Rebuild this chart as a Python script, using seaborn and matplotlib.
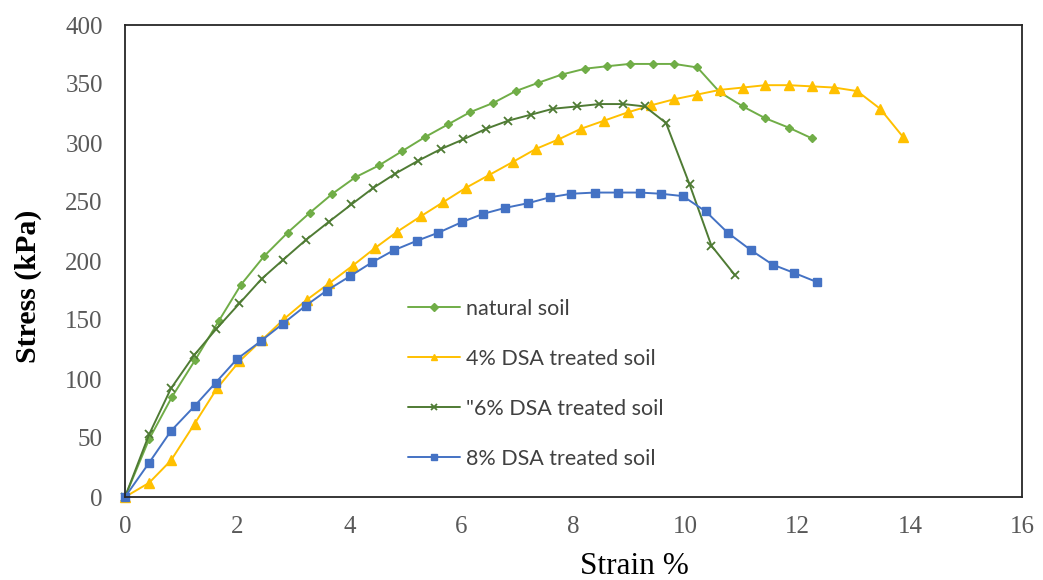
import numpy as np
import pandas as pd
import matplotlib
matplotlib.use("Agg")
import matplotlib.pyplot as plt
import seaborn as sns

# Strain (%) and deviator stress (kPa) for each mix
natural_strain = [0, 0.43, 0.84, 1.25, 1.67, 2.07, 2.48, 2.90, 3.30, 3.70, 4.11, 4.53, 4.94,
                  5.35, 5.77, 6.15, 6.57, 6.97, 7.37, 7.79, 8.21, 8.59, 9.00, 9.41, 9.80,
                  10.21, 10.61, 11.02, 11.42, 11.84, 12.25]
natural_stress = [0, 49, 85, 116, 149, 180, 204, 224, 241, 257, 271, 281, 293,
                  305, 316, 326, 334, 344, 351, 358, 363, 365, 367, 367, 367,
                  364, 343, 331, 321, 313, 304]

dsa4_strain = [0, 0.43, 0.82, 1.24, 1.64, 2.04, 2.44, 2.84, 3.24, 3.64, 4.06, 4.46, 4.86,
               5.28, 5.68, 6.08, 6.50, 6.92, 7.33, 7.73, 8.13, 8.55, 8.97, 9.39, 9.79,
               10.20, 10.61, 11.02, 11.42, 11.84, 12.25, 12.65, 13.06, 13.47, 13.88]
dsa4_stress = [0, 12, 31, 62, 92, 115, 133, 151, 167, 181, 196, 211, 225,
               238, 250, 262, 273, 284, 295, 303, 312, 319, 326, 332, 337,
               341, 345, 347, 349, 349, 348, 347, 344, 329, 305]

dsa6_strain = [0, 0.43, 0.82, 1.23, 1.62, 2.04, 2.44, 2.82, 3.23, 3.63, 4.04, 4.43, 4.82,
               5.23, 5.64, 6.03, 6.44, 6.84, 7.24, 7.63, 8.06, 8.46, 8.89, 9.27, 9.65,
               10.07, 10.46, 10.88]
dsa6_stress = [0, 53, 92, 120, 142, 164, 185, 201, 218, 233, 248, 262, 274,
               285, 295, 303, 312, 319, 324, 329, 331, 333, 333, 331, 317,
               265, 213, 188]

dsa8_strain = [0, 0.43, 0.82, 1.24, 1.62, 2.00, 2.42, 2.82, 3.22, 3.60, 4.01, 4.41, 4.79,
               5.20, 5.59, 6.01, 6.39, 6.78, 7.19, 7.58, 7.96, 8.38, 8.79, 9.18, 9.56,
               9.95, 10.36, 10.75, 11.17, 11.55, 11.93, 12.35]
dsa8_stress = [0, 29, 56, 77, 97, 117, 132, 147, 162, 175, 187, 199, 209,
               217, 224, 233, 240, 245, 249, 254, 257, 258, 258, 258, 257,
               255, 242, 224, 209, 197, 190, 182]

labels = ["natural soil", "4% DSA treated soil", "\"6% DSA treated soil", "8% DSA treated soil"]
x_ticks = [0, 2, 4, 6, 8, 10, 12, 14, 16]
y_ticks = [0, 50, 100, 150, 200, 250, 300, 350, 400]

series = [
    (natural_strain, natural_stress, labels[0], "#70AD47", "D", 4.2, 1.0),
    (dsa4_strain, dsa4_stress, labels[1], "#FFC000", "^", 6.5, 1.0),
    (dsa6_strain, dsa6_stress, labels[2], "#4F7B34", "x", 6.0, 1.3),
    (dsa8_strain, dsa8_stress, labels[3], "#4472C4", "s", 6.0, 1.0),
]

sns.set_theme(style="white")
plt.rcParams["font.family"] = ["Liberation Serif", "DejaVu Serif"]

fig = plt.figure(figsize=(10.43, 5.80), dpi=100)
ax = fig.add_axes([125 / 1043, 1 - 497 / 580, (1022 - 125) / 1043, (497 - 25) / 580])

for xs, ys, lab, col, mk, ms, mew in series:
    df = pd.DataFrame({"strain": xs, "stress": ys})
    sns.lineplot(data=df, x="strain", y="stress", ax=ax, color=col, label=lab,
                 marker=mk, markersize=ms, markeredgewidth=mew,
                 markeredgecolor=col, markerfacecolor=col,
                 linewidth=1.4, sort=False, estimator=None, clip_on=False)

ax.set_xlim(0, 16)
ax.set_ylim(0, 400)
ax.set_xticks(x_ticks)
ax.set_yticks(y_ticks)
ax.tick_params(axis="both", length=0, labelsize=18, labelcolor="#595959")
ax.tick_params(axis="y", pad=16)
ax.tick_params(axis="x", pad=14)
for side in ["left", "right", "top", "bottom"]:
    ax.spines[side].set_visible(True)
    ax.spines[side].set_color("#262626")
    ax.spines[side].set_linewidth(1.3)
ax.grid(False)

ax.set_xlabel("")
ax.set_ylabel("")
fig.text(28 / 1043, 1 - 286 / 580, "Stress (kPa)", rotation=90, ha="center", va="center",
         fontsize=21.5, fontweight="bold", color="black")
fig.text(634 / 1043, 1 - 566 / 580, "Strain %", ha="center", va="center",
         fontsize=22.5, color="black")

leg = ax.legend(loc="upper left", bbox_to_anchor=(397 / 1043, 1 - 288 / 580),
                bbox_transform=fig.transFigure, frameon=False, borderpad=0,
                handlelength=2.42, handletextpad=0.28, labelspacing=1.39,
                prop={"family": "Lato", "size": 15.5})
for t in leg.get_texts():
    t.set_color("#404040")
for h in leg.get_lines():
    h.set_markersize(4.5)

fig.savefig("out.png", dpi=100, facecolor="white")
